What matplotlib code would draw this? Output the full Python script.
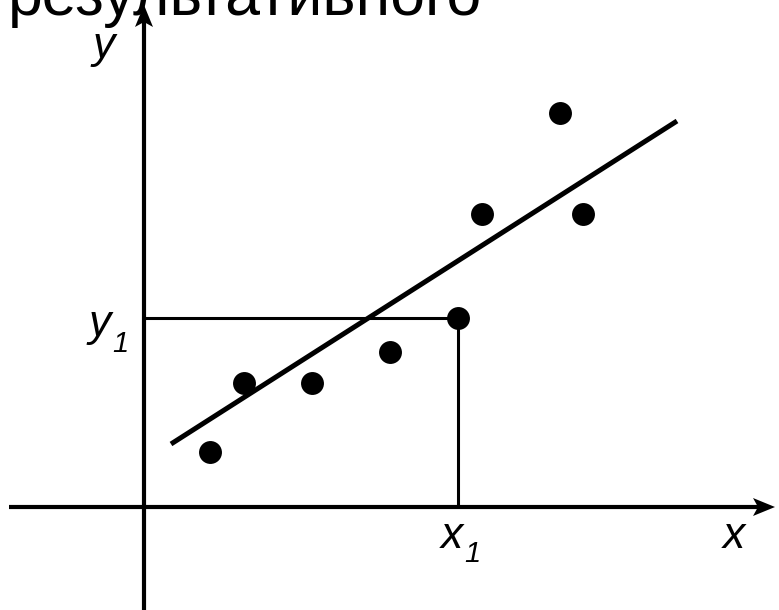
import numpy as np
import matplotlib.pyplot as plt
from matplotlib.patches import Polygon

# scatter points, pixels from the axis origin (y up)
pts_x = [66, 100, 168, 246, 314, 338, 416, 439]
pts_y = [55, 124, 124, 155, 189, 293, 394, 293]

# fitted line ends
line_x = [27, 533]
line_y = [63, 386]

# marked point
x1, y1 = 314, 189

# axis extents (tip of arrows)
x_axis = [-135, 631]
y_axis = [-103, 502]

title = "результативного"

plt.rcParams['font.family'] = ['Liberation Sans', 'DejaVu Sans']


def arrow(ax, start, tip, length=22, half=9, notch=5, lw=3.0):
    start = np.array(start, float)
    tip = np.array(tip, float)
    d = (tip - start) / np.linalg.norm(tip - start)
    p = np.array([-d[1], d[0]])
    back = tip - d * (length - notch)
    ax.plot([start[0], back[0]], [start[1], back[1]], color='black',
            lw=lw, solid_capstyle='butt')
    head = [tip, tip - d * length + p * half, back, tip - d * length - p * half]
    ax.add_patch(Polygon(head, closed=True, color='black', lw=0))


fig = plt.figure(figsize=(7.79, 6.10), dpi=100)
ax = fig.add_axes([0, 0, 1, 1])
ax.set_xlim(-144, 635)
ax.set_ylim(-103, 507)
ax.axis('off')

# axes with arrows
arrow(ax, (x_axis[0], 0), (x_axis[1], 0))
arrow(ax, (0, y_axis[0]), (0, y_axis[1]))

# guide lines to (x1, y1)
ax.plot([0, x1], [y1, y1], color='black', lw=2.2, solid_capstyle='butt')
ax.plot([x1, x1], [y1, 0], color='black', lw=2.2, solid_capstyle='butt')

# regression line
ax.plot(line_x, line_y, color='black', lw=3.6, solid_capstyle='butt')

# points
ax.plot(pts_x, pts_y, 'o', color='black', markersize=16.5, markeredgewidth=0)

# labels
lab = dict(fontsize=32, style='italic', ha='left', va='baseline')
sub = dict(fontsize=21, style='italic', ha='left', va='baseline')
ax.text(-51, 449, 'y', **lab)
ax.text(-55, 171, 'y', **lab)
ax.text(-32, 155, '1', **sub)
ax.text(297, -41, 'x', **lab)
ax.text(320, -55, '1', **sub)
ax.text(579, -41, 'x', **lab)

ax.text(-136, 492, title, fontsize=45, ha='left', va='baseline')

fig.savefig('out.png', dpi=100)
